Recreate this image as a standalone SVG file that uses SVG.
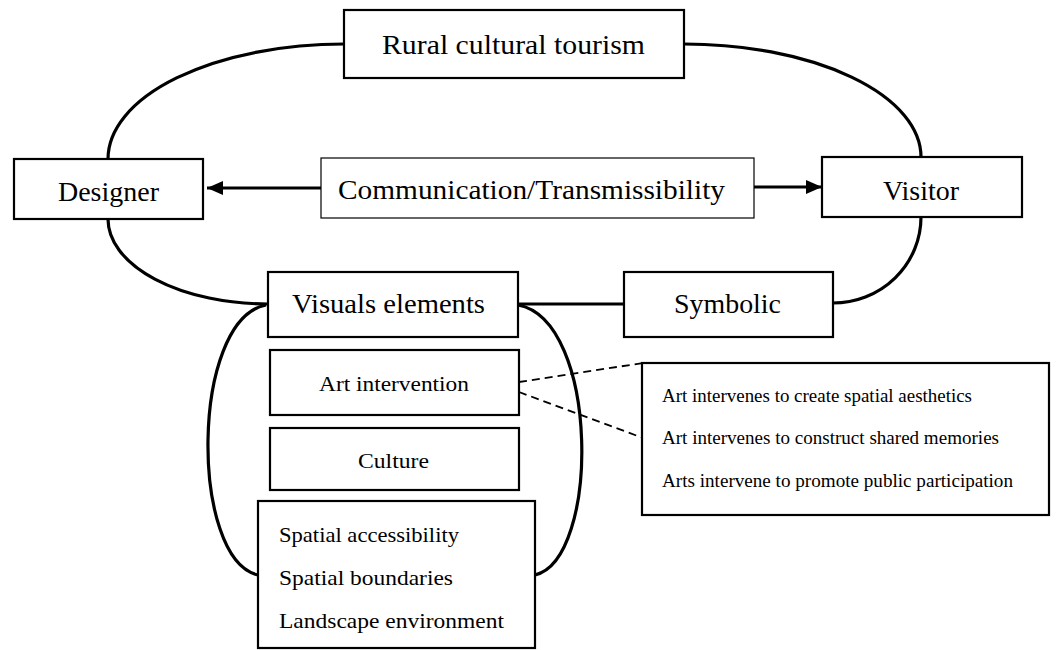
<svg xmlns="http://www.w3.org/2000/svg" width="1056" height="650" viewBox="0 0 1056 650">
<style>
.box{fill:#fff;stroke:#000;stroke-width:2.2}
.thin{fill:#fff;stroke:#000;stroke-width:1.2}
.t{font-family:"Liberation Serif","Times New Roman",serif;fill:#000}
.big{font-size:27px}
.mid{font-size:22px}
.sm{font-size:18px}
.curve{fill:none;stroke:#000;stroke-width:3.2}
.dash{fill:none;stroke:#000;stroke-width:1.8;stroke-dasharray:8 5}
.arr{fill:none;stroke:#000;stroke-width:3.2}
</style>
<defs>
<marker id="ah" viewBox="0 0 16 14" refX="16" refY="7" markerWidth="16" markerHeight="14" markerUnits="userSpaceOnUse" orient="auto">
<path d="M0,0 L16,7 L0,14 Z" fill="#000"/>
</marker>
</defs>
<g id="connectors">
<path class="curve" d="M344,44 A236,115 0 0 0 108,159"/>
<path class="curve" d="M684,44 A237,113 0 0 1 921,157"/>
<path class="curve" d="M108,219 A160,85 0 0 0 268,304"/>
<path class="curve" d="M921,217 A88,86 0 0 1 833,303"/>
<path class="curve" d="M518,304 L624,304"/>
<path class="curve" d="M266,305 C190,320 190,560 258,575"/>
<path class="curve" d="M518,305 C600,320 600,560 535,575"/>
<path class="arr" d="M321,188 L207,188" marker-end="url(#ah)"/>
<path class="arr" d="M754,187 L822,187" marker-end="url(#ah)"/>
<path class="dash" d="M519,382 L643,363"/>
<path class="dash" d="M519,392 L643,438"/>
</g>
<g id="rural">
<rect class="box" x="344" y="10" width="340" height="68"/>
<text class="t big" x="382" y="54" textLength="263" lengthAdjust="spacingAndGlyphs">Rural cultural tourism</text>
</g>
<g id="designer">
<rect class="box" x="14" y="159" width="189" height="60"/>
<text class="t big" x="58" y="201" textLength="101" lengthAdjust="spacingAndGlyphs">Designer</text>
</g>
<g id="communication">
<rect class="thin" x="321" y="158" width="433" height="60"/>
<text class="t big" x="338" y="199" textLength="387" lengthAdjust="spacingAndGlyphs">Communication/Transmissibility</text>
</g>
<g id="visitor">
<rect class="box" x="822" y="157" width="200" height="60"/>
<text class="t big" x="883" y="200" textLength="76" lengthAdjust="spacingAndGlyphs">Visitor</text>
</g>
<g id="visuals">
<rect class="box" x="268" y="272" width="250" height="65"/>
<text class="t big" x="292" y="313" textLength="193" lengthAdjust="spacingAndGlyphs">Visuals elements</text>
</g>
<g id="symbolic">
<rect class="box" x="624" y="272" width="209" height="65"/>
<text class="t big" x="674" y="313" textLength="107" lengthAdjust="spacingAndGlyphs">Symbolic</text>
</g>
<g id="art">
<rect class="box" x="270" y="350" width="249" height="65"/>
<text class="t mid" x="319" y="391" textLength="150" lengthAdjust="spacingAndGlyphs">Art intervention</text>
</g>
<g id="culture">
<rect class="box" x="270" y="428" width="249" height="62"/>
<text class="t mid" x="358" y="468" textLength="71" lengthAdjust="spacingAndGlyphs">Culture</text>
</g>
<g id="spatial">
<rect class="box" x="258" y="501" width="277" height="147"/>
<text class="t mid" x="279" y="542" textLength="180" lengthAdjust="spacingAndGlyphs">Spatial accessibility</text>
<text class="t mid" x="279" y="585" textLength="174" lengthAdjust="spacingAndGlyphs">Spatial boundaries</text>
<text class="t mid" x="279" y="628" textLength="225" lengthAdjust="spacingAndGlyphs">Landscape environment</text>
</g>
<g id="detail">
<rect class="box" x="642" y="363" width="407" height="152"/>
<text class="t sm" x="662" y="402" textLength="310" lengthAdjust="spacingAndGlyphs">Art intervenes to create spatial aesthetics</text>
<text class="t sm" x="662" y="444" textLength="337" lengthAdjust="spacingAndGlyphs">Art intervenes to construct shared memories</text>
<text class="t sm" x="662" y="487" textLength="351" lengthAdjust="spacingAndGlyphs">Arts intervene to promote public participation</text>
</g>
</svg>
